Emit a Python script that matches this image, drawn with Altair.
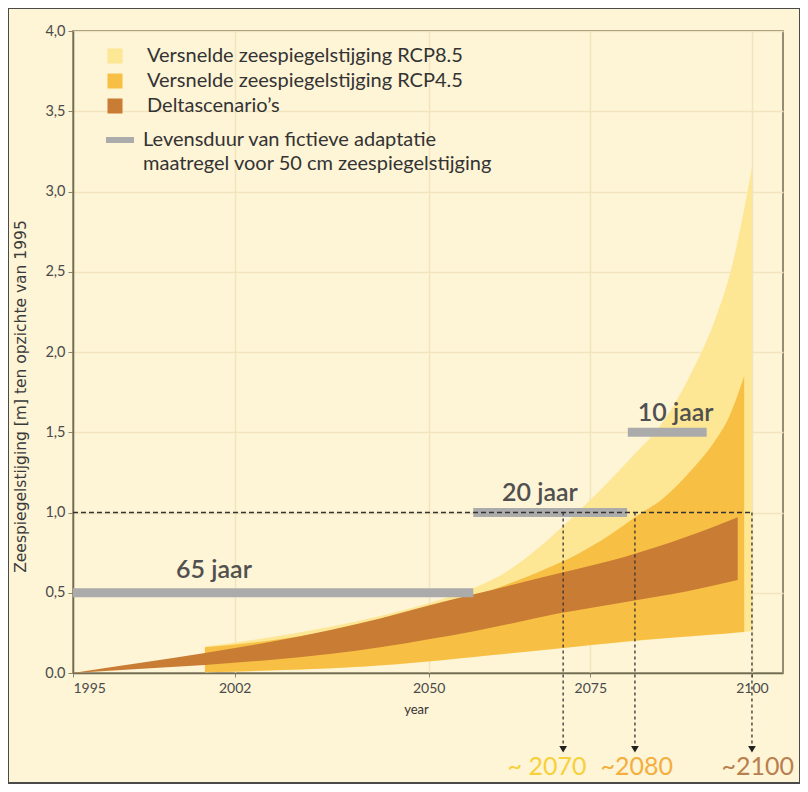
import altair as alt
import pandas as pd

# ---------------- data ----------------
series_names = ["Versnelde zeespiegelstijging RCP8.5",
                "Versnelde zeespiegelstijging RCP4.5",
                "Deltascenario’s"]
series_colors = ["#FDE794", "#F8BF45", "#C97C33"]

rcp85_years = [2015.4, 2025, 2035, 2045, 2052, 2057, 2062, 2067, 2073, 2078, 2082, 2086, 2091, 2094, 2097, 2100]
rcp85_upper = [0.165, 0.22, 0.29, 0.38, 0.46, 0.53, 0.63, 0.78, 1.00, 1.20, 1.37, 1.55, 1.90, 2.17, 2.55, 3.15]
rcp85_lower = [0.005, 0.015, 0.03, 0.055, 0.08, 0.10, 0.12, 0.14, 0.165, 0.185, 0.20, 0.215, 0.23, 0.24, 0.25, 0.26]

rcp45_years = [2015.4, 2025, 2035, 2045, 2052, 2057, 2062, 2067, 2073, 2078, 2083, 2086, 2091, 2094, 2096.5, 2098.8]
rcp45_upper = [0.16, 0.20, 0.26, 0.33, 0.42, 0.48, 0.55, 0.63, 0.74, 0.86, 1.00, 1.08, 1.28, 1.43, 1.60, 1.85]
rcp45_lower = [0.005, 0.015, 0.03, 0.055, 0.08, 0.10, 0.12, 0.14, 0.165, 0.185, 0.205, 0.215, 0.23, 0.24, 0.248, 0.255]

delta_years = [1995, 2005, 2015.4, 2025, 2035, 2042.5, 2050, 2057, 2063, 2070, 2080, 2090, 2097.8]
delta_upper = [0.0, 0.06, 0.125, 0.19, 0.27, 0.34, 0.42, 0.49, 0.55, 0.62, 0.72, 0.85, 0.97]
delta_lower = [0.0, 0.025, 0.05, 0.08, 0.12, 0.16, 0.21, 0.26, 0.31, 0.37, 0.44, 0.51, 0.58]

# lifetime bars of the fictitious adaptation measure
bar_legend = ["Levensduur van fictieve adaptatie", "maatregel voor 50 cm zeespiegelstijging"]
bar_start = [1995, 2056.9, 2080.8]
bar_end = [2056.9, 2080.7, 2093.0]
bar_level = [0.5, 1.0, 1.5]
bar_text = ["65 jaar", "20 jaar", "10 jaar"]
bar_text_x = [2016.8, 2067.2, 2088.2]
bar_text_y = [0.64, 1.12, 1.62]

# 1 m threshold and crossing years
threshold = 1.0
cross_years = [2070.8, 2081.9, 2100.0]
cross_text = ["~ 2070", "~2080", "~2100"]
cross_text_x = [2068.3, 2082.2, 2100.9]
cross_colors = ["#F7D03A", "#F3AE3D", "#B9804F"]
arrow_end = -0.45
arrow_head = -0.475
cross_text_y = -0.586

x_tick_values = [1995, 2020, 2050, 2075, 2100]
x_tick_labels = ["1995", "2002", "2050", "2075", "2100"]
y_tick_values = [0, 0.5, 1, 1.5, 2, 2.5, 3, 3.5, 4]

# ---------------- scales / axes ----------------
x_scale = alt.Scale(domain=[1995, 2104.8], nice=False, zero=False)
y_scale = alt.Scale(domain=[0, 4], nice=False, zero=False)

label_expr = " : ".join(
    [f"datum.value == {v} ? '{l}'" for v, l in zip(x_tick_values, x_tick_labels)]
) + " : ''"

x_axis = alt.Axis(values=x_tick_values, labelExpr=label_expr, title="year",
                  titleFontSize=13, titleFontWeight="normal", titleColor="#333333",
                  titleX=343, titleY=30, titleBaseline="top",
                  labelFontSize=14, labelPadding=4, tickSize=4, grid=True)
y_axis = alt.Axis(values=y_tick_values,
                  labelExpr="datum.value == 0 ? '0.0' : replace(format(datum.value, '.1f'), '.', ',')",
                  title="Zeespiegelstijging [m] ten opzichte van 1995",
                  titleFont="DejaVu Sans", titleFontSize=15.5, titleFontWeight="normal",
                  titleColor="#3A3A3A",
                  titleAngle=270, titleX=-45, titleY=365, titleAlign="center",
                  titleBaseline="bottom",
                  labelFontSize=14.5, labelPadding=3, tickSize=5, grid=True)


def X(field):
    return alt.X(field, type="quantitative", scale=x_scale, axis=x_axis)


def Y(field):
    return alt.Y(field, type="quantitative", scale=y_scale, axis=y_axis)


color_enc = alt.Color(
    "series:N",
    scale=alt.Scale(domain=series_names, range=series_colors),
    legend=alt.Legend(orient="none", legendX=32, legendY=15, title=None,
                      symbolType="square", symbolSize=225, symbolStrokeWidth=0,
                      symbolOpacity=1, labelFontSize=20, labelOffset=22,
                      rowPadding=5, padding=0, labelLimit=500),
)


def band(name, years, lo, hi):
    return pd.DataFrame({"series": name, "year": years, "lo": lo, "hi": hi})


areas = []
for name, yrs, lo, hi in [
    (series_names[0], rcp85_years, rcp85_lower, rcp85_upper),
    (series_names[1], rcp45_years, rcp45_lower, rcp45_upper),
    (series_names[2], delta_years, delta_lower, delta_upper),
]:
    areas.append(
        alt.Chart(band(name, yrs, lo, hi)).mark_area(interpolate="monotone", opacity=1).encode(
            x=X("year"), y=Y("lo"), y2="hi:Q", color=color_enc
        )
    )

bars_df = pd.DataFrame({"x0": bar_start, "x1": bar_end, "y": bar_level, "kind": bar_legend[0]})
bars = alt.Chart(bars_df).mark_rule(strokeWidth=9, strokeCap="butt").encode(
    x=X("x0"), x2="x1:Q", y=Y("y"),
    stroke=alt.Stroke("kind:N",
                      scale=alt.Scale(domain=bar_legend, range=["#ABABAB", "rgba(0,0,0,0)"]),
                      legend=alt.Legend(orient="none", legendX=36, legendY=98, title=None,
                                        symbolType="M-1.75,0H1.75", symbolSize=256,
                                        symbolStrokeWidth=6, labelFontSize=20,
                                        labelOffset=12, rowPadding=0, padding=0,
                                        labelLimit=500)),
)

bar_lbl_df = pd.DataFrame({"x": bar_text_x, "y": bar_text_y, "t": bar_text})
bar_labels = alt.Chart(bar_lbl_df).mark_text(
    font="Lato", fontSize=25, fontWeight=600, color="#505050", align="center", baseline="middle"
).encode(x=X("x"), y=Y("y"), text="t:N")

hline_df = pd.DataFrame({"x0": [x_tick_values[0]], "x1": [cross_years[-1]], "y": [threshold]})
hline = alt.Chart(hline_df).mark_rule(strokeDash=[5, 3], strokeWidth=1.3, color="#333333").encode(
    x=X("x0"), x2="x1:Q", y=Y("y")
)

vline_df = pd.DataFrame({"x": cross_years, "y0": [threshold] * 3, "y1": [arrow_end] * 3})
vlines = alt.Chart(vline_df).mark_rule(strokeDash=[3, 3], strokeWidth=1.3, color="#333333").encode(
    x=X("x"), y=Y("y0"), y2="y1:Q"
)

heads_df = pd.DataFrame({"x": cross_years, "y": [arrow_head] * 3})
heads = alt.Chart(heads_df).mark_point(shape="triangle-down", filled=True, size=60,
                                       color="#222222", opacity=1).encode(
    x=X("x"), y=Y("y")
)

cross_df = pd.DataFrame({"x": cross_text_x, "y": [cross_text_y] * 3, "t": cross_text})
cross_labels = alt.Chart(cross_df).mark_text(
    font="Lato", fontSize=25, align="center", baseline="middle"
).encode(
    x=X("x"), y=Y("y"), text="t:N",
    fill=alt.Fill("t:N", scale=alt.Scale(domain=cross_text, range=cross_colors), legend=None),
)

# decorative outer frame of the figure
frame = alt.Chart(pd.DataFrame({"f": [0]})).mark_rect(
    fill=None, stroke="#4A4A4A", strokeWidth=2
).encode(x=alt.value(-65), x2=alt.value(727), y=alt.value(-23), y2=alt.value(752))

chart = alt.layer(*areas, bars, hline, vlines, heads, bar_labels, cross_labels, frame).properties(
    width=710, height=642,
    autosize=alt.AutoSizeParams(type="none"),
    padding={"left": 65, "top": 23, "right": 17, "bottom": 111},
    background="#FEF4D6",
).configure_view(
    stroke="#706B55", strokeWidth=1.5
).configure_axis(
    domainColor="#706B55", domainWidth=1.5, gridColor="#F2E4BC", gridWidth=1.5,
    tickColor="#8A8670", labelColor="#4A4A4A", labelFont="Lato", titleFont="Lato",
).configure_legend(
    labelFont="Lato", labelColor="#333333",
)

chart.save("out.html", embed_options={"renderer": "svg", "actions": False})
